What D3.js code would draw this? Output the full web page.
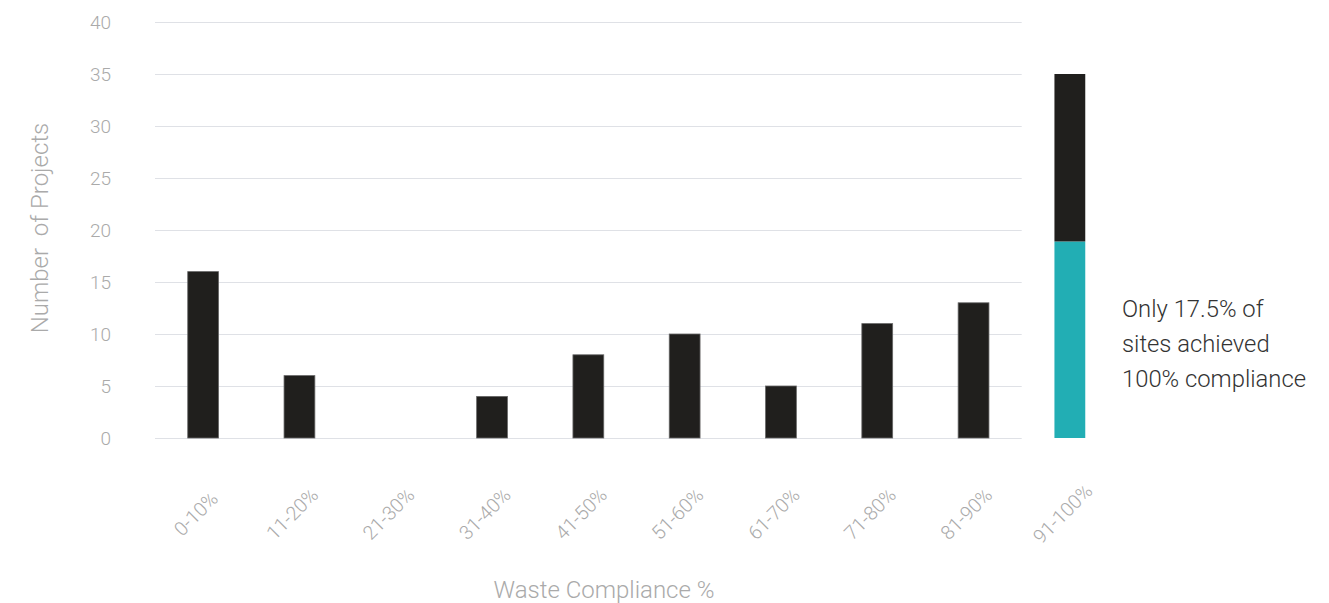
<!DOCTYPE html>
<html>
<head>
<meta charset="utf-8">
<script src="https://cdn.jsdelivr.net/npm/d3@7"></script>
<style>
  body { margin: 0; background: #fff; }
  svg { display: block; font-family: Roboto, "Open Sans", sans-serif; }
</style>
</head>
<body>
<svg id="chart" width="1329" height="603"></svg>
<script>
const categories = ["0-10%", "11-20%", "21-30%", "31-40%", "41-50%", "51-60%", "61-70%", "71-80%", "81-90%", "91-100%"];
const projects = [16, 6, 0, 4, 8, 10, 5, 11, 13, 16.1];
const fullCompliance = [0, 0, 0, 0, 0, 0, 0, 0, 0, 18.9];
const yTicks = [0, 5, 10, 15, 20, 25, 30, 35, 40];
const noteLines = ["Only 17.5% of", "sites achieved", "100% compliance"];

const svg = d3.select("#chart");

const x = d3.scaleBand()
  .domain(categories)
  .range([155, 1118])
  .paddingInner(0.68)
  .paddingOuter(0.34);

const y = d3.scaleLinear().domain([0, 40]).range([438, 22]);

// gridlines only span the first nine bands
const gridEnd = x.range()[0] + 9 * x.step();

svg.append("g")
  .selectAll("line")
  .data(yTicks)
  .join("line")
  .attr("x1", 155)
  .attr("x2", gridEnd)
  .attr("y1", (d) => y(d) + 0.5)
  .attr("y2", (d) => y(d) + 0.5)
  .attr("stroke", "#dfe1e6")
  .attr("stroke-width", 1);

// y tick labels
svg.append("g")
  .selectAll("text")
  .data(yTicks)
  .join("text")
  .attr("x", 111)
  .attr("y", (d) => y(d))
  .attr("dy", "0.36em")
  .attr("text-anchor", "end")
  .attr("fill", "#aaaaaa")
  .attr("font-size", 19)
  .attr("font-weight", 300)
  .text((d) => d);

// stacked bars: teal part at bottom, black on top
const stacked = categories.map((c, i) => ({ cat: c, teal: fullCompliance[i], black: projects[i] }));

svg.append("g")
  .selectAll("rect.teal")
  .data(stacked.filter((d) => d.teal > 0))
  .join("rect")
  .attr("class", "teal")
  .attr("x", (d) => x(d.cat))
  .attr("width", x.bandwidth())
  .attr("y", (d) => y(d.teal))
  .attr("height", (d) => y(0) - y(d.teal))
  .attr("fill", "#22aeb4");

svg.append("g")
  .selectAll("rect.black")
  .data(stacked.filter((d) => d.black > 0))
  .join("rect")
  .attr("class", "black")
  .attr("x", (d) => x(d.cat))
  .attr("width", x.bandwidth())
  .attr("y", (d) => y(d.teal + d.black))
  .attr("height", (d) => y(d.teal) - y(d.teal + d.black))
  .attr("fill", "#201f1d")
  .attr("stroke", (d) => (d.teal > 0 ? "none" : "#666"))
  .attr("stroke-width", 0.8);

// x tick labels, rotated
svg.append("g")
  .selectAll("text")
  .data(categories)
  .join("text")
  .attr("transform", (d) => `translate(${x(d) + x.bandwidth() / 2 - 7},${514}) rotate(-45)`)
  .attr("text-anchor", "middle")
  .attr("dominant-baseline", "central")
  .attr("fill", "#aaaaaa")
  .attr("font-size", 19.5)
  .attr("font-weight", 300)
  .text((d) => d);

// axis titles
svg.append("text")
  .attr("transform", "translate(48,228) rotate(-90)")
  .attr("text-anchor", "middle")
  .attr("fill", "#aaaaaa")
  .attr("font-size", 24)
  .attr("font-weight", 300)
  .attr("xml:space", "preserve")
  .style("white-space", "pre")
  .text("Number  of Projects");

svg.append("text")
  .attr("x", 604)
  .attr("y", 598)
  .attr("text-anchor", "middle")
  .attr("fill", "#aaaaaa")
  .attr("font-size", 24)
  .attr("font-weight", 300)
  .text("Waste Compliance %");

// annotation
svg.append("text")
  .attr("x", 1122)
  .attr("fill", "#333333")
  .attr("font-size", 23.8)
  .attr("font-weight", 300)
  .selectAll("tspan")
  .data(noteLines)
  .join("tspan")
  .attr("x", 1122)
  .attr("y", (d, i) => 317 + i * 35)
  .text((d) => d);
</script>
</body>
</html>
